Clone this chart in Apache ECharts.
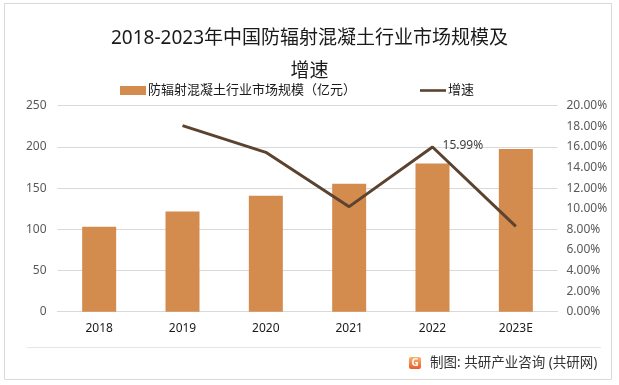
<!DOCTYPE html>
<html>
<head>
<meta charset="utf-8">
<script src="https://cdn.jsdelivr.net/npm/echarts@6/dist/echarts.min.js"></script>
<style>
html,body{margin:0;padding:0;background:#fff;}
#c{width:619px;height:385px;}
</style>
</head>
<body>
<div id="c"></div>
<script>
var categories = ['2018', '2019', '2020', '2021', '2022', '2023E'];
var marketSize = [103, 121.5, 140.8, 155.2, 180, 197.6];
var growthRate = [null, 18.06, 15.47, 10.2, 15.99, 8.28];
var leftTicks = {min: 0, max: 250, interval: 50};
var rightTicks = {min: 0, max: 20, interval: 2};
var labelledPoint = '2022';

var FONT = '"Noto Sans", "Noto Sans CJK SC", sans-serif';
var chart = echarts.init(document.getElementById('c'));
chart.setOption({
  animation: false,
  backgroundColor: '#ffffff',
  textStyle: {fontFamily: FONT},
  title: {
    text: '2018-2023年中国防辐射混凝土行业市场规模及\n增速',
    left: 'center',
    top: 17,
    textStyle: {fontSize: 19, fontWeight: 'normal', color: '#1a1a1a', lineHeight: 33, fontFamily: FONT}
  },
  legend: {
    top: 79,
    left: 115,
    itemGap: 64,
    itemWidth: 26,
    itemHeight: 9,
    textStyle: {fontSize: 13, color: '#1a1a1a', padding: [0, 0, 0, -3]},
    data: [
      {name: '防辐射混凝土行业市场规模（亿元）', icon: 'rect'},
      {name: '增速', icon: 'path://M0,0 L30,0 L30,3 L0,3 Z'}
    ]
  },
  grid: {left: 57.5, right: 61.5, top: 105.7, bottom: 73.3, containLabel: false},
  xAxis: {
    type: 'category',
    data: categories,
    axisLine: {lineStyle: {color: '#d9d9d9'}},
    axisTick: {show: false},
    axisLabel: {color: '#1a1a1a', fontSize: 12, margin: 11}
  },
  yAxis: [
    {
      type: 'value', min: leftTicks.min, max: leftTicks.max, interval: leftTicks.interval,
      axisLine: {show: false}, axisTick: {show: false},
      axisLabel: {color: '#595959', fontSize: 12, margin: 11},
      splitLine: {lineStyle: {color: '#d9d9d9'}}
    },
    {
      type: 'value', min: rightTicks.min, max: rightTicks.max, interval: rightTicks.interval,
      axisLine: {show: false}, axisTick: {show: false},
      axisLabel: {color: '#595959', fontSize: 12, margin: 9, formatter: function (v) { return v.toFixed(2) + '%'; }},
      splitLine: {show: false}
    }
  ],
  series: [
    {
      name: '防辐射混凝土行业市场规模（亿元）',
      type: 'bar',
      data: marketSize,
      barWidth: 34,
      itemStyle: {color: '#d38b4e'}
    },
    {
      name: '增速',
      type: 'line',
      yAxisIndex: 1,
      data: growthRate.map(function (v, i) {
        if (categories[i] === labelledPoint) {
          return {value: v, label: {show: true}};
        }
        return v;
      }),
      showSymbol: true,
      symbol: 'circle',
      symbolSize: 0.1,
      lineStyle: {color: '#5c4330', width: 3},
      itemStyle: {color: '#5c4330'},
      label: {
        show: false, position: 'right', distance: 10, offset: [0, -1],
        color: '#404040', fontSize: 12,
        formatter: function (p) { return Number(p.value).toFixed(2) + '%'; }
      }
    }
  ],
  graphic: [
    {type: 'rect', shape: {x: 4.5, y: 3.5, width: 607, height: 376}, style: {fill: 'none', stroke: '#d9d9d9', lineWidth: 1}, z: -1},
    {type: 'line', shape: {x1: 27, y1: 347.5, x2: 601, y2: 347.5}, style: {stroke: '#e6e6e6', lineWidth: 1}},
    {type: 'rect', shape: {x: 409, y: 357, width: 12, height: 12, r: 2},
      style: {fill: new echarts.graphic.LinearGradient(0, 0, 0, 1, [{offset: 0, color: '#f9b36a'}, {offset: 1, color: '#ea5b2b'}])}},
    {type: 'text', x: 415, y: 363, style: {text: 'G', fill: '#fff', fontSize: 10, fontWeight: 'bold', align: 'center', verticalAlign: 'middle', fontFamily: FONT}},
    {type: 'text', x: 430, y: 363, style: {text: '制图: 共研产业咨询 (共研网)', fill: '#333333', fontSize: 13.5, verticalAlign: 'middle', fontFamily: FONT}}
  ]
});
</script>
</body>
</html>
